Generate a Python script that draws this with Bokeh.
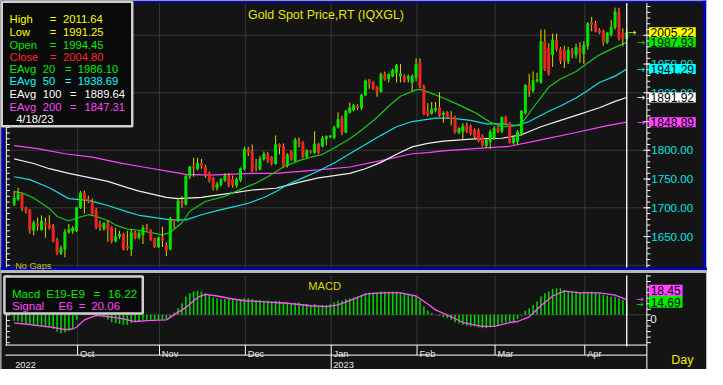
from bokeh.plotting import figure
from bokeh.models import Range1d
from bokeh.embed import file_html
from bokeh.resources import INLINE
from bokeh.core.properties import value

# ------------------------------------------------------------------ data
title_text = "Gold Spot Price,RT (IQXGL)"
month_labels = ["Oct", "Nov", "Dec", "Jan", "Feb", "Mar", "Apr"]
month_first_bar = [16, 37, 59, 81, 103, 123, 146]
year_labels = ["2022", "2023"]
year_first_bar = [0, 81]

opens = [1706, 1715, 1724, 1700, 1696, 1661, 1672, 1662, 1674, 1670,
         1668, 1643, 1621, 1628, 1658, 1660, 1660, 1700, 1726, 1714,
         1710, 1696, 1672, 1664, 1673, 1666, 1642, 1650, 1654, 1633,
         1628, 1657, 1648, 1653, 1667, 1660, 1646, 1632, 1648, 1635,
         1628, 1679, 1677, 1712, 1706, 1755, 1772, 1768, 1778, 1771,
         1760, 1752, 1735, 1740, 1748, 1756, 1750, 1739, 1748, 1768,
         1802, 1798, 1772, 1767, 1785, 1793, 1788, 1777, 1810, 1807,
         1774, 1798, 1782, 1815, 1813, 1789, 1798, 1796, 1811, 1807,
         1820, 1824, 1822, 1840, 1856, 1831, 1866, 1870, 1877, 1874,
         1896, 1921, 1918, 1910, 1902, 1932, 1924, 1929, 1935, 1929,
         1929, 1925, 1918, 1927, 1953, 1911, 1868, 1864, 1870, 1874,
         1862, 1866, 1858, 1857, 1831, 1833, 1843, 1842, 1835, 1835,
         1825, 1808, 1815, 1821, 1838, 1833, 1857, 1846, 1813, 1815,
         1828, 1865, 1913, 1904, 1921, 1918, 1989, 1978, 1966, 1992,
         1976, 1974, 1955, 1974, 1966, 1978, 1968, 1982, 2022, 2020,
         2008, 2007, 1988, 2001, 2014, 2041, 2004, 1994.45]
highs = [1729, 1735, 1726, 1702, 1698, 1678, 1683, 1687, 1683, 1687,
         1672, 1648, 1634, 1663, 1672, 1668, 1702, 1729, 1730, 1721,
         1716, 1700, 1678, 1675, 1678, 1668, 1665, 1660, 1656, 1660,
         1663, 1660, 1660, 1670, 1672, 1663, 1648, 1650, 1667, 1640,
         1684, 1680, 1715, 1720, 1757, 1773, 1787, 1787, 1785, 1775,
         1763, 1754, 1745, 1752, 1760, 1760, 1756, 1753, 1770, 1806,
         1806, 1810, 1785, 1790, 1798, 1797, 1790, 1826, 1812, 1812,
         1795, 1800, 1822, 1822, 1816, 1802, 1800, 1833, 1813, 1825,
         1826, 1826, 1843, 1866, 1860, 1870, 1883, 1881, 1880, 1898,
         1923, 1924, 1920, 1912, 1935, 1937, 1934, 1942, 1950, 1950,
         1932, 1932, 1932, 1960, 1960, 1914, 1882, 1884, 1884, 1901,
         1868, 1868, 1868, 1860, 1840, 1847, 1848, 1845, 1838, 1838,
         1828, 1822, 1836, 1842, 1842, 1859, 1860, 1849, 1824, 1835,
         1870, 1915, 1933, 1937, 1935, 2010, 2010, 1986, 2003, 2003,
         1980, 1982, 1980, 1978, 1985, 1988, 1990, 2023, 2032, 2025,
         2012, 2010, 2006, 2027, 2048, 2048, 2012, 2011.64]
lows = [1703, 1712, 1694, 1690, 1655, 1652, 1660, 1660, 1648, 1662,
        1640, 1618, 1618, 1614, 1655, 1655, 1658, 1698, 1690, 1708,
        1688, 1663, 1660, 1660, 1641, 1638, 1640, 1646, 1626, 1626,
        1616, 1645, 1645, 1637, 1660, 1643, 1630, 1630, 1632, 1616,
        1626, 1664, 1675, 1700, 1704, 1750, 1754, 1765, 1768, 1752,
        1744, 1730, 1730, 1737, 1745, 1736, 1735, 1735, 1745, 1765,
        1790, 1762, 1763, 1765, 1782, 1778, 1774, 1775, 1793, 1770,
        1770, 1782, 1780, 1805, 1786, 1786, 1794, 1794, 1794, 1805,
        1809, 1821, 1820, 1838, 1826, 1830, 1864, 1868, 1870, 1870,
        1894, 1907, 1905, 1893, 1900, 1921, 1918, 1927, 1918, 1918,
        1918, 1918, 1903, 1920, 1908, 1861, 1859, 1862, 1866, 1858,
        1848, 1855, 1843, 1829, 1828, 1818, 1830, 1826, 1820, 1814,
        1806, 1804, 1803, 1818, 1830, 1830, 1843, 1812, 1810, 1810,
        1825, 1862, 1893, 1900, 1918, 1916, 1938, 1930, 1945, 1972,
        1950, 1943, 1950, 1960, 1960, 1952, 1950, 1975, 2007, 2005,
        2002, 1982, 1985, 1998, 2010, 1991, 1981, 1991.25]
closes = [1717, 1724, 1700, 1694, 1661, 1674, 1669, 1677, 1670, 1665,
          1642, 1621, 1629, 1658, 1662, 1665, 1700, 1726, 1714, 1712,
          1690, 1666, 1666, 1673, 1662, 1642, 1650, 1654, 1628, 1630,
          1657, 1648, 1655, 1665, 1663, 1644, 1632, 1648, 1643, 1628,
          1681, 1676, 1712, 1706, 1755, 1771, 1769, 1778, 1774, 1757,
          1748, 1735, 1741, 1749, 1756, 1739, 1740, 1749, 1768, 1802,
          1796, 1765, 1770, 1785, 1794, 1782, 1777, 1810, 1806, 1772,
          1792, 1784, 1818, 1811, 1788, 1799, 1797, 1811, 1796, 1821,
          1824, 1825, 1840, 1854, 1831, 1868, 1874, 1878, 1874, 1896,
          1921, 1917, 1907, 1902, 1932, 1924, 1932, 1939, 1948, 1933,
          1921, 1928, 1929, 1950, 1911, 1863, 1862, 1872, 1873, 1860,
          1865, 1857, 1855, 1831, 1838, 1842, 1833, 1829, 1824, 1816,
          1809, 1818, 1832, 1838, 1833, 1857, 1846, 1813, 1822, 1832,
          1868, 1913, 1903, 1921, 1923, 1989, 1941, 1933, 1992, 1976,
          1956, 1956, 1974, 1969, 1979, 1969, 1983, 2020, 2019, 2007,
          2005, 1988, 2004, 2014, 2041, 1994, 1994, 2004.80]

ema20_idx = [0, 2, 5, 9, 11, 14, 16, 19, 21, 24, 26, 29, 32, 35, 38, 40, 43, 45, 49, 54,
             58, 62, 65, 69, 73, 76, 79, 82, 86, 89, 93, 96, 99, 103, 104, 107, 110, 114, 118, 122,
             125, 128, 130, 133, 137, 140, 144, 147, 150, 154, 157]
ema20_val = [1728, 1726, 1717, 1699, 1685, 1677, 1682, 1688, 1685, 1678, 1670, 1663, 1661, 1657, 1653, 1657, 1674, 1694, 1711, 1720,
             1732, 1743, 1754, 1771, 1782, 1788, 1793, 1804, 1820, 1835, 1857, 1877, 1894, 1905, 1906, 1899, 1891, 1879, 1866, 1849,
             1841, 1842, 1846, 1874, 1910, 1924, 1937, 1952, 1966, 1979, 1987.93]
ema50_idx = [0, 4, 9, 14, 19, 24, 29, 32, 34, 40, 44, 48, 52, 57, 60, 64, 67, 70, 74, 78,
             82, 86, 90, 94, 98, 102, 105, 108, 112, 117, 121, 125, 129, 132, 137, 140, 144, 147, 150, 154, 157]
ema50_val = [1754, 1749, 1735, 1716, 1713, 1704, 1693, 1687, 1685, 1679, 1679, 1688, 1695, 1703, 1708, 1718, 1728, 1740, 1752, 1764,
             1778, 1794, 1810, 1826, 1841, 1850, 1853, 1856, 1856, 1852, 1846, 1846, 1843, 1850, 1868, 1877, 1891, 1904, 1918, 1929, 1941.29]
ema100_idx = [0, 5, 9, 14, 19, 24, 29, 32, 34, 39, 42, 48, 52, 57, 61, 67, 70, 74, 78, 86,
              90, 94, 98, 102, 106, 110, 118, 125, 130, 135, 140, 145, 150, 154, 157]
ema100_val = [1785, 1777, 1768, 1760, 1753, 1746, 1735, 1729, 1726, 1718, 1716, 1718, 1722, 1727, 1731, 1734, 1739, 1746, 1752, 1760,
              1768, 1779, 1793, 1806, 1812, 1816, 1820, 1821, 1827, 1841, 1852, 1863, 1874, 1885, 1891.92]
ema200_idx = [0, 6, 13, 20, 27, 33, 40, 44, 50, 61, 67, 78, 86, 94, 102, 106, 110, 118, 127, 135, 144, 152, 157]
ema200_val = [1808, 1803, 1794, 1788, 1778, 1771, 1763, 1758, 1757, 1760, 1760, 1766, 1771, 1782, 1794, 1796, 1799, 1803, 1807, 1818,
              1831, 1843, 1848.89]

macd_vals = [-7, -8, -9, -10, -12, -13, -13, -14, -15, -15,
             -17, -20, -22, -21, -19, -16, -6, 2, 6, 7,
             5, 2, -1, -3, -6, -9, -10, -11, -12, -12,
             -10, -9, -8, -6, -6, -6, -7, -6, -6, -6,
             -2, 3, 8, 14, 22, 26, 28, 29, 28, 26,
             24, 21, 20, 19, 19, 19, 19, 19, 19, 20,
             20, 19, 18, 18, 17, 17, 16, 17, 17, 15,
             15, 14, 15, 15, 13, 13, 12, 13, 11, 12,
             12, 13, 15, 17, 17, 19, 20, 21, 22, 24,
             26, 27, 27, 27, 28, 28, 28, 28, 28, 27,
             26, 24, 23, 22, 18, 10, 5, 2, 0, -1,
             -3, -4, -6, -9, -10, -12, -13, -14, -14, -15,
             -16, -16, -15, -14, -13, -10, -9, -9, -8, -5,
             -1, 5, 8, 12, 16, 22, 26, 28, 31, 32,
             32, 30, 29, 28, 28, 27, 28, 28, 28, 27,
             26, 24, 23, 22, 22, 20, 18, 14.69]
sig_idx = [0, 3, 6, 10, 13, 15, 16, 18, 21, 23, 27, 31, 34, 39, 41, 44, 47, 49, 52, 55,
           59, 63, 70, 76, 80, 83, 87, 90, 94, 99, 103, 106, 108, 112, 115, 120, 123, 127, 129, 132,
           135, 138, 141, 145, 150, 154, 157]
sig_val = [-10, -11, -13, -15, -17.7, -17, -14.6, -6, -0.5, -1.5, -4, -8, -7, -6, 0, 9, 21, 24.6, 22.7, 20,
           17, 16, 14, 11, 10, 12, 19, 25, 26.5, 26.5, 22.7, 13, 6, -2.3, -9.2, -13.8, -13.8, -9.2, -8, -2.3,
           11, 22.7, 28.5, 26.5, 26.5, 23.8, 18.45]

price_tick_labels = [1650, 1700, 1750, 1800, 1850, 1900, 1950, 2000]
price_grid = [1600, 1700, 1800, 1900, 2000]
last_price = 2005.22
ema_badges = [1987.93, 1941.29, 1891.92, 1848.89]
macd_badges = ["18.45", "14.69"]

legend_rows = [("High", "2011.64"), ("Low", "1991.25"), ("Open", "1994.45"), ("Close", "2004.80")]
legend_ema = [("20", "1986.10"), ("50", "1938.69"), ("100", "1889.64"), ("200", "1847.31")]
legend_date = "4/18/23"
macd_legend = [("Macd", "E19-E9", "16.22"), ("Signal", "E6", "20.06")]

# ------------------------------------------------------------------ style
BG = "#141414"
GRID = "#363636"
WICK = "#d8d800"
UP = "#00e800"
DN = "#f02424"
C20, C50, C100, C200 = "#18c818", "#10e0e8", "#f0f0f0", "#ff44ff"
YEL = "#e6e600"
NAVY = "#0000c0"
FRAME = "#c4c4c4"
FONT = value("Liberation Sans")

# the whole 723x385 design is drawn scaled into a 707x369 figure
W, H = 707, 369
p = figure(width=W, height=H, output_backend="svg", toolbar_location=None,
           x_range=Range1d(-3.5088, 177.694), y_range=Range1d(1418.83, 2060.5),
           x_axis_location=None, y_axis_location=None, min_border=0,
           background_fill_color=BG, border_fill_color=BG, outline_line_color=None)
for g in p.grid:
    g.visible = False
p.extra_x_ranges = {"px": Range1d(0, 723)}
p.extra_y_ranges = {"pxy": Range1d(385, 0), "macd": Range1d(-65.74, 378.31)}

PX = dict(x_range_name="px", y_range_name="pxy")


def seg(x0, y0, x1, y1, color, w=1.0, **kw):
    p.segment(x0=x0, y0=y0, x1=x1, y1=y1, line_color=color, line_width=w, **kw)


def box(l, r, t, b, color, **kw):
    p.quad(left=[l], right=[r], top=[t], bottom=[b], fill_color=color, line_color=None, **PX)


def txt(x, y, s, color, size, align="left", baseline="alphabetic", font=FONT, **kw):
    p.text(x=x, y=y, text=s, text_color=color, text_font=font, text_font_size=size,
           text_align=align, text_baseline=baseline, **kw)


n = len(closes)
idx = list(range(n))
grid_x = [m + 0.25 for m in month_first_bar]
nm = len(grid_x)

# frames / separators
box(0, 723, 0, 0.8, FRAME)
box(0, 723, 0.8, 2.6, NAVY)
box(0, 1, 0, 385, FRAME)
box(1, 4, 0, 281.2, NAVY)
box(718.5, 721.5, 0, 281.2, NAVY)
box(721.5, 723, 0, 385, FRAME)
box(0, 723, 278.6, 281.2, NAVY)
box(0, 723, 281.2, 284.2, "#b8b8b8")

# grid lines
seg([7] * len(price_grid), price_grid, [661] * len(price_grid), price_grid, GRID, 1, x_range_name="px")
seg(grid_x, [2.6] * nm, grid_x, [278.6] * nm, GRID, 1, y_range_name="pxy")
seg(grid_x, [287] * nm, grid_x, [359] * nm, GRID, 1, y_range_name="pxy")
seg([7], [0], [661], [0], "#3a3a3a", 1, x_range_name="px", y_range_name="macd")

# moving averages
p.line(ema200_idx, ema200_val, line_color=C200, line_width=1.2)
p.line(ema100_idx, ema100_val, line_color=C100, line_width=1.2)
p.line(ema50_idx, ema50_val, line_color=C50, line_width=1.2)
p.line(ema20_idx, ema20_val, line_color=C20, line_width=1.2)

# candles
seg(idx, lows, idx, highs, WICK, 1)
up = [i for i in idx if closes[i] >= opens[i]]
dn = [i for i in idx if closes[i] < opens[i]]
p.vbar(x=up, width=0.5, top=[closes[i] for i in up], bottom=[opens[i] for i in up],
       fill_color=UP, line_color=UP, line_width=1)
p.vbar(x=dn, width=0.5, top=[opens[i] for i in dn], bottom=[closes[i] for i in dn],
       fill_color=DN, line_color=DN, line_width=1)

# MACD
p.vbar(x=idx, width=0.4, top=macd_vals, bottom=0, fill_color="#00d400", line_color=None,
       y_range_name="macd")
p.line(sig_idx, sig_val, line_color="#ff50ff", line_width=1.3, y_range_name="macd")

# cursor line
seg([n - 1], [2.6], [n - 1], [278.6], "#ffffff", 1.3, y_range_name="pxy")
seg([n - 1], [287], [n - 1], [361], "#ffffff", 1.3, y_range_name="pxy")

# left axes
seg([6], [2.6], [6], [278.6], "#ffffff", 1, **PX)
seg([6], [287], [6], [359.5], "#ffffff", 1, **PX)
minor = list(range(1600, 2060, 10))
seg([6] * len(minor), minor, [9.5] * len(minor), minor, "#ffffff", 1, x_range_name="px")

# right price axis
seg([661], [2.6], [661], [278.6], "#ffffff", 1, **PX)
seg([661] * len(minor), minor, [664.5] * len(minor), minor, "#ffffff", 1, x_range_name="px")
seg([657.5] * len(price_tick_labels), price_tick_labels, [664.5] * len(price_tick_labels),
    price_tick_labels, "#ffffff", 1, x_range_name="px")
txt([665.5] * len(price_tick_labels), price_tick_labels,
    ["%.2f" % v for v in price_tick_labels], "#00e6e6", "11.6px", baseline="middle", x_range_name="px")

# value badges on the price axis
badge_vals = [last_price] + ema_badges
badge_cols = ["#ffff00", "#00ee00", "#00ffff", "#ffffff", "#ff44ff"]
p.rect(x=[687] * 5, y=badge_vals, width=48, height=10, height_units="screen",
       fill_color=badge_cols, line_color=None, x_range_name="px")
txt([687] * 5, badge_vals, ["%.2f" % v for v in badge_vals], "#000000", "12px",
    align="center", baseline="middle", x_range_name="px")
arrow_cols = ["#e6e600", C20, C50, C100, C200]
txt([646, 655, 655, 655, 655], badge_vals, ["\u2192"] * 5, arrow_cols, "10px",
    align="center", baseline="middle", font=value("DejaVu Sans"), x_range_name="px")

# MACD right axis
seg([661], [286], [661], [385], "#ffffff", 1, **PX)
mt = [328 + 5.8 * k for k in range(-7, 6)]
seg([661] * len(mt), mt, [665] * len(mt), mt, "#ffffff", 1, **PX)
seg([6] * len(mt), mt, [9.5] * len(mt), mt, "#ffffff", 1, **PX)
txt([664.5], [332], ["0"], "#e8ecff", "11.6px", **PX)
box(663, 697.5, 296.7, 308.4, "#ff44ff")
box(663, 697.5, 308.4, 320.7, "#00ee00")
txt([680.2, 680.2], [302.6, 314.6], macd_badges, "#000000", "12px", align="center", baseline="middle", **PX)
txt([654, 654], [311.5, 316.5], ["\u2192", "\u2192"], ["#ff44ff", "#00ee00"], "9px",
    align="center", baseline="middle", font=value("DejaVu Sans"), **PX)

# bottom time axis
seg([5, 5], [359.5, 370], [661, 661], [359.5, 370], "#ffffff", 1, **PX)
seg(grid_x, [359.5] * nm, grid_x, [370] * nm, "#ffffff", 1, y_range_name="pxy")
jan = grid_x[month_labels.index("Jan")]
seg([jan], [370], [jan], [385], "#ffffff", 1, y_range_name="pxy")
txt([g + 0.6 for g in grid_x], [369] * nm, month_labels, "#e8e8e8", "9.3px", y_range_name="pxy")
txt([year_first_bar[0] + 0.25, jan + 0.5], [380.5, 380.5], year_labels, "#e8e8e8", "9.3px", y_range_name="pxy")
txt([686], [375.5], ["Day"], "#f0f000", "12.5px", **PX)

# titles
txt([333], [15], [title_text], YEL, "12.4px", align="center", **PX)
txt([15], [277.5], ["No Gaps"], "#c8c800", "9.2px", **PX)
txt([331.5], [298.3], ["MACD"], "#d8d800", "11.2px", align="center", **PX)

# price legend box
p.quad(left=[1.3], right=[134.7], top=[1.3], bottom=[131.3], fill_color="#0a0a0a",
       line_color="#d0d0d0", line_width=2.5, **PX)
base = [19.3, 32.7, 46.0, 58.7]
cols = ["#ffff00", "#ffff00", "#00ee00", "#ff2828"]
FS = "11.2px"
for (lab, val), b, c in zip(legend_rows, base, cols):
    txt([9.3], [b], [lab], c, FS, **PX)
    txt([50.3], [b], ["="], c, FS, **PX)
    txt([64], [b], [val], c, FS, **PX)
base = [71.7, 84.3, 97.3, 110.7]
cols = ["#00ee00", "#00ffff", "#ffffff", "#ff44ff"]
eqx = [66, 66, 71, 71]
vx = [79, 79, 86, 86]
for (per, val), b, c, ex, xv in zip(legend_ema, base, cols, eqx, vx):
    txt([9.3], [b], ["EAvg"], c, FS, **PX)
    txt([43.3], [b], [per], c, FS, **PX)
    txt([ex], [b], ["="], c, FS, **PX)
    txt([xv], [b], [val], c, FS, **PX)
txt([16], [123.3], [legend_date], "#ffffff", FS, **PX)

# MACD legend box
p.quad(left=[4], right=[145.5], top=[288], bottom=[326.5], fill_color="#0a0a0a",
       line_color="#d0d0d0", line_width=2.5, **PX)
mcols = ["#00ee00", "#ff44ff"]
mb = [306, 318.5]
mpos = [(11.7, 46.7, 95, 110), (11.7, 59.3, 80, 92.7)]
for (a, b_, v), y, c, (x1, x2, x3, x4) in zip(macd_legend, mb, mcols, mpos):
    txt([x1], [y], [a], c, "11.6px", **PX)
    txt([x2], [y], [b_], c, "11.6px", **PX)
    txt([x3], [y], ["="], c, "11.6px", **PX)
    txt([x4], [y], [v], c, "11.6px", **PX)

open("out.html", "w").write(file_html(p, INLINE))
